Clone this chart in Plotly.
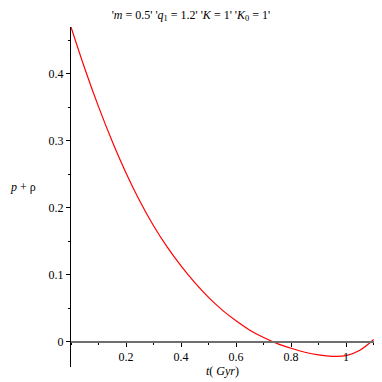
import plotly.graph_objects as go

# dane
t_gyr = [0.0, 0.05, 0.1, 0.15, 0.2, 0.25, 0.3, 0.35, 0.4, 0.45, 0.5, 0.55,
         0.6, 0.65, 0.7, 0.75, 0.8, 0.85, 0.9, 0.95, 1.0, 1.05, 1.1]
p_plus_rho = [0.470, 0.408, 0.351, 0.299, 0.252, 0.210, 0.173, 0.141, 0.113,
              0.088, 0.066, 0.047, 0.031, 0.017, 0.006, -0.003, -0.010,
              -0.016, -0.020, -0.022, -0.021, -0.013, 0.003]

x_ticks = [0.2, 0.4, 0.6, 0.8, 1.0]
x_tick_text = ["0.2", "0.4", "0.6", "0.8", "1"]
y_ticks = [0, 0.1, 0.2, 0.3, 0.4]
y_tick_text = ["0", "0.1", "0.2", "0.3", "0.4"]

X_RANGE = [0, 1.105]
Y_RANGE = [-0.038, 0.47]
FONT = "Liberation Serif"

fig = go.Figure()
fig.add_trace(go.Scatter(
    x=t_gyr, y=p_plus_rho, mode="lines",
    line=dict(color="#ff0000", width=1.2, shape="spline", smoothing=1.0),
    showlegend=False,
))

# os x lezy na y = 0
x_pos = (0 - Y_RANGE[0]) / (Y_RANGE[1] - Y_RANGE[0])

# strona ma 8px marginesu body, wiec rysunek 374x374
fig.update_layout(
    width=374, height=374,
    margin=dict(l=63, r=7, t=19, b=15),
    plot_bgcolor="white", paper_bgcolor="white",
    font=dict(family=FONT, size=12, color="black"),
    title=dict(
        text="'<i>m</i> = 0.5' '<i>q</i><sub>1</sub> = 1.2' '<i>K</i> = 1' "
             "'<i>K</i><sub>0</sub> = 1'",
        xref="container", x=0.489, xanchor="center",
        yref="container", y=0.983, yanchor="middle",
        font=dict(family=FONT, size=12, color="black"),
    ),
    xaxis=dict(
        range=X_RANGE, anchor="free", position=x_pos,
        showgrid=False, zeroline=False,
        showline=True, linecolor="#6e6e6e", linewidth=2,
        tickvals=x_ticks, ticktext=x_tick_text,
        ticks="outside", ticklen=4, tickcolor="black", tickwidth=1,
        minor=dict(dtick=0.1, tick0=0, ticks="outside", ticklen=2,
                   tickcolor="black", showgrid=False),
        tickfont=dict(family=FONT, size=12),
    ),
    yaxis=dict(
        range=Y_RANGE,
        showgrid=False, zeroline=False,
        showline=True, linecolor="black", linewidth=1,
        tickvals=y_ticks, ticktext=y_tick_text,
        ticks="outside", ticklen=4, tickcolor="black", tickwidth=1,
        minor=dict(dtick=0.05, tick0=0, ticks="outside", ticklen=2,
                   tickcolor="black", showgrid=False),
        tickfont=dict(family=FONT, size=12),
    ),
    annotations=[
        dict(text="<i>p</i> + ρ", xref="paper", yref="paper",
             x=-0.158, y=0.529, xanchor="center", yanchor="middle",
             showarrow=False, font=dict(family=FONT, size=12)),
        dict(text="<i>t</i>( <i>Gyr</i>)", xref="paper", yref="paper",
             x=0.497, y=-0.012, xanchor="center", yanchor="middle",
             showarrow=False, font=dict(family=FONT, size=12)),
    ],
)

fig.write_html("out.html")
